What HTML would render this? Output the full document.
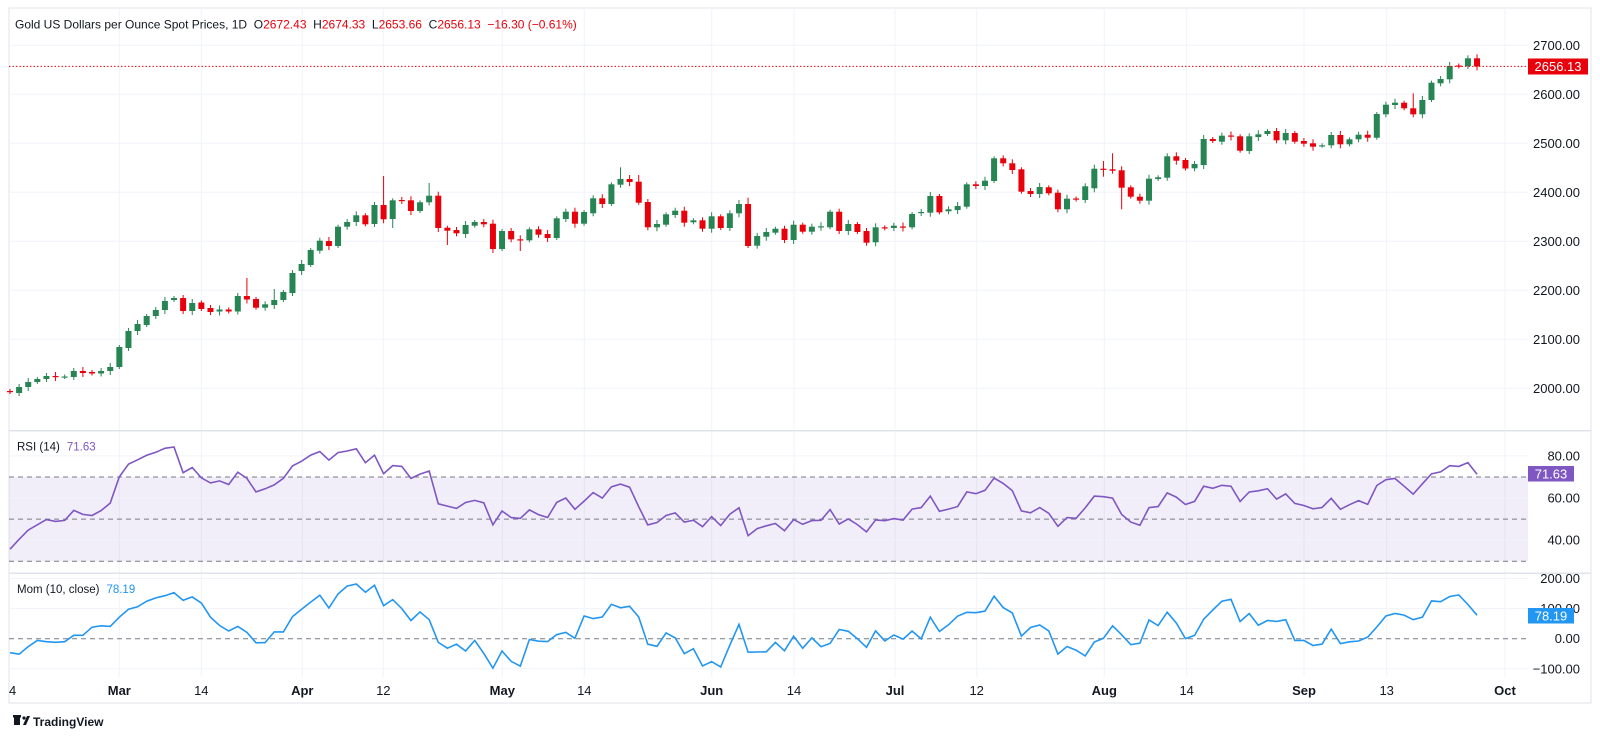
<!DOCTYPE html>
<html><head><meta charset="utf-8">
<style>
html,body{margin:0;padding:0;background:#fff;}
body{width:1600px;height:736px;overflow:hidden;font-family:"Liberation Sans",sans-serif;}
svg{position:absolute;left:0;top:0;}
</style></head>
<body>
<svg id="c" width="1600" height="736" viewBox="0 0 1600 736" xmlns="http://www.w3.org/2000/svg" font-family="Liberation Sans, sans-serif"></svg>
<script>
var D=[[391,392],[393,387,0,396],[387,382],[382,379],[379,376],[376,377],[377,376.5],[377,371],[371,373],[372,373.5],[373.5,371],[371,367],[367,347],[348,331],[331,324],[325,316],[316,310],[310,301],[300,298],[298,311],[311,303],[302.5,309],[308,312],[311.5,309.5],[309.5,311.5],[311.5,296],[296,299.5,278],[299,307.7],[307.7,304.3],[305,300,289],[300,292],[293,273],[271,264],[265,250],[250.7,240.7],[241,246],[246,226.7],[226.7,222],[222,215.3],[215.3,224.3],[224,205],[205,219.3,176],[219,200.3,0,228],[200,201],[200.3,211],[211,202.3],[202.3,195.7,183],[195.7,228],[227.7,230.7,0,245],[230,233.3],[234,225],[225.7,222],[222,224.3],[223.7,249],[249,231],[231,239.3],[239.3,240.3,0,251],[240.3,229.3],[229.3,234.7],[234,238],[238,218.3],[219,211.7],[211.7,223.7],[223.7,212],[213.3,198.3],[198.3,204],[204,184.3],[184.7,179,167.3],[179,182],[181.7,202.7,175],[202,227.3],[227.3,224],[224.7,214.3],[215,210.7],[210.7,222.7],[222.3,220.3],[220.3,228.7],[228.7,216.3],[216.3,228],[228,213.3],[213.3,204],[204,246,197.7],[245.7,236],[236.7,232],[232.7,228.7],[228.7,240],[240,224.7],[224.7,231.7],[231.7,226.7],[226.7,226.3],[227.3,211.7],[211.7,231],[231,224],[224,232],[231,242.7],[242.3,227.3],[227.3,228.3],[228,225.7],[226.5,227.5],[227.3,214],[213,212],[212.7,196],[196,212.3],[211.3,209.3],[210,206],[206.7,184.3],[184.3,186],[186,180.7],[181,158.3],[158.3,163.3],[163.3,170],[169.3,191.7],[191,194],[194,187],[187.3,193.3],[192.7,209.3],[209.3,198.7],[198.5,199.5],[200,186.3],[188.3,168.7],[168.7,169.3,161,176.7],[169.3,170.7,153.3],[170.3,187.7,0,209.3],[187.3,196.7],[196.7,200.7],[200.7,178.7],[179,177.3],[177.7,156.3],[156.3,160.7],[160,168.5],[168.3,164],[165,139],[139,141],[141.7,135.7],[135.5,136.5],[136.3,150.7],[151,136.3],[137,134.3],[134,131],[131,140.3],[140.3,133],[133,141.7],[141,143.7],[143.3,146.7],[145.7,145.3],[145.3,135],[135,144.3],[144.3,139.3],[139.3,134.7],[134.7,137.7],[137.7,114],[114.3,104.7],[105,102.7],[102.7,108.3],[108.3,114.3,93.3],[114.3,100],[100,82.7],[83.3,79],[79.3,66],[65.5,66.5],[66,58.3],[58.3,66.4]];
var pre=[2072,2030,2028,2036,2019,2004,1980,1995,2036,2043,2019,2027,2040,2031,2047,2053,2064,2067,2077,2083,2062,2058,2040,2043,2045,2028,2030,2024,2029,2049,2055,2028,2006,2023,2029,2021,2029,2014,2020,2018,2033,2037,2039,2054,2039,2025,2035,2035,2034,2024,2020,1992];
function P(y){return 2000+(388.3-y)/0.49;}
var closes=pre.slice();D.forEach(function(d){closes.push(P(d[1]));});
var np=pre.length;
var rsi=[],ag=0,al=0;
for(var i=1;i<closes.length;i++){var ch=closes[i]-closes[i-1],g=Math.max(ch,0),l=Math.max(-ch,0);
 if(i<=14){ag+=g/14;al+=l/14;}else{ag=(ag*13+g)/14;al=(al*13+l)/14;}
 rsi[i]=al==0?100:100-100/(1+ag/al);}
var s='';
function X(i){return 10+i*9.112;}
var L=9,R=1528;
s+='<rect x="9" y="8" width="1582" height="695" fill="none" stroke="#e0e3eb" stroke-width="1"/>';
var vg=[[9,'14',0],[119.3,'Mar',1],[201.3,'14',0],[302.3,'Apr',1],[383.3,'12',0],[502.3,'May',1],[584.3,'14',0],[711.7,'Jun',1],[794,'14',0],[895,'Jul',1],[976.7,'12',0],[1104.3,'Aug',1],[1186.7,'14',0],[1304,'Sep',1],[1386.7,'13',0],[1505,'Oct',1]];
vg.forEach(function(v){ if(v[0]>10) s+='<line x1="'+v[0]+'" y1="8" x2="'+v[0]+'" y2="677" stroke="#f0f3fa"/>';});
for(var p=2000;p<=2700;p+=100){var y=388.3-(p-2000)*0.49;s+='<line x1="'+L+'" y1="'+y+'" x2="'+R+'" y2="'+y+'" stroke="#f0f3fa"/>';
 s+='<text x="1580" y="'+(y+4.5)+'" font-size="13" fill="#131722" text-anchor="end">'+p+'.00</text>';}
s+='<line x1="9" y1="430.7" x2="1591" y2="430.7" stroke="#e0e3eb" stroke-width="1.5"/>';
s+='<line x1="9" y1="573.3" x2="1591" y2="573.3" stroke="#e0e3eb" stroke-width="1.5"/>';
function RY(v){return 561.3-(v-30)*2.1075;}
s+='<rect x="'+L+'" y="'+RY(70)+'" width="'+(R-L)+'" height="'+(RY(30)-RY(70))+'" fill="rgba(126,87,194,0.1)"/>';
[80,60,40].forEach(function(v){var y=RY(v);s+='<line x1="'+L+'" y1="'+y+'" x2="'+R+'" y2="'+y+'" stroke="#f0f3fa"/><text x="1580" y="'+(y+4.5)+'" font-size="13" fill="#131722" text-anchor="end">'+v+'.00</text>';});
[70,50,30].forEach(function(v){var y=RY(v);s+='<line x1="'+L+'" y1="'+y+'" x2="'+R+'" y2="'+y+'" stroke="#787b86" stroke-dasharray="5,4"/>';});
var pts=[];for(var i=0;i<D.length;i++){pts.push(X(i).toFixed(1)+','+RY(rsi[np+i]).toFixed(1));}
s+='<polyline points="'+pts.join(' ')+'" fill="none" stroke="#7e57c2" stroke-width="1.6"/>';
function MY(v){return 638.7-v*0.301;}
[200,100,-100].forEach(function(v){var y=MY(v);s+='<line x1="'+L+'" y1="'+y+'" x2="'+R+'" y2="'+y+'" stroke="#f0f3fa"/><text x="1580" y="'+(y+4.5)+'" font-size="13" fill="#131722" text-anchor="end">'+(v<0?'\u2212100':v)+'.00</text>';});
s+='<line x1="'+L+'" y1="'+MY(0)+'" x2="'+R+'" y2="'+MY(0)+'" stroke="#787b86" stroke-dasharray="5,4"/><text x="1580" y="'+(MY(0)+4.5)+'" font-size="13" fill="#131722" text-anchor="end">0.00</text>';
pts=[];for(var i=0;i<D.length;i++){var m=closes[np+i]-closes[np+i-10];pts.push(X(i).toFixed(1)+','+MY(m).toFixed(1));}
s+='<polyline points="'+pts.join(' ')+'" fill="none" stroke="#2196f3" stroke-width="1.6"/>';
var G='#278554',Rd='#e8000b';
D.forEach(function(d,i){var o=d[0],c=d[1],x=X(i),col=c<=o?G:Rd;var t=Math.min(o,c),b=Math.max(o,c);
 var hi=d[2]||t-2-(i%3),lo=d[3]||b+2+((i*7)%3);if(b-t<1.2){b=t+1.2;}
 s+='<line x1="'+x+'" y1="'+hi+'" x2="'+x+'" y2="'+lo+'" stroke="'+col+'" stroke-width="1"/>';
 s+='<rect x="'+(x-3)+'" y="'+t+'" width="6" height="'+(b-t)+'" fill="'+col+'"/>';});
s+='<line x1="'+L+'" y1="66.4" x2="'+R+'" y2="66.4" stroke="#e8000b" stroke-dasharray="1.5,2"/>';
s+='<rect x="1528" y="58.5" width="60" height="16" fill="#e8000b"/><text x="1558" y="71" font-size="13" fill="#fff" text-anchor="middle">2656.13</text>';
s+='<rect x="1528" y="466" width="46" height="15.5" fill="#7e57c2"/><text x="1551" y="478.3" font-size="13" fill="#fff" text-anchor="middle">71.63</text>';
s+='<rect x="1528" y="608" width="46" height="15.5" fill="#2196f3"/><text x="1551" y="620.3" font-size="13" fill="#fff" text-anchor="middle">78.19</text>';
s+='<clipPath id="xc"><rect x="9" y="677" width="1582" height="25"/></clipPath><g clip-path="url(#xc)">';
vg.forEach(function(v){s+='<text x="'+v[0]+'" y="695" font-size="13" fill="#131722" text-anchor="middle"'+(v[2]?' font-weight="bold"':'')+'>'+v[1]+'</text>';});
s+='</g>';
s+='<text x="15" y="28.5" font-size="12" fill="#131722" xml:space="preserve">Gold US Dollars per Ounce Spot Prices, 1D  O<tspan fill="#e8000b">2672.43</tspan>  H<tspan fill="#e8000b">2674.33</tspan>  L<tspan fill="#e8000b">2653.66</tspan>  C<tspan fill="#e8000b">2656.13</tspan>  <tspan fill="#e8000b">\u221216.30 (\u22120.61%)</tspan></text>';
s+='<text x="17" y="450.5" font-size="11.5" fill="#131722">RSI (14)<tspan dx="7" fill="#7e57c2">71.63</tspan></text>';
s+='<text x="17" y="593" font-size="11.5" fill="#131722">Mom (10, close)<tspan dx="7" fill="#2196f3">78.19</tspan></text>';
s+='<g transform="translate(14,721)"><rect x="0" y="-5" width="6" height="9" fill="#131722"/><rect x="-1" y="-6" width="8" height="2.5" fill="#131722"/><circle cx="10" cy="-3" r="1.6" fill="#131722"/><path d="M9,4 L13,-5 L16,-5 L12,4 Z" fill="#131722"/></g>';
s+='<text x="33" y="726" font-size="12" fill="#131722" font-weight="bold">TradingView</text>';
document.getElementById('c').innerHTML=s;
</script>
</body></html>
